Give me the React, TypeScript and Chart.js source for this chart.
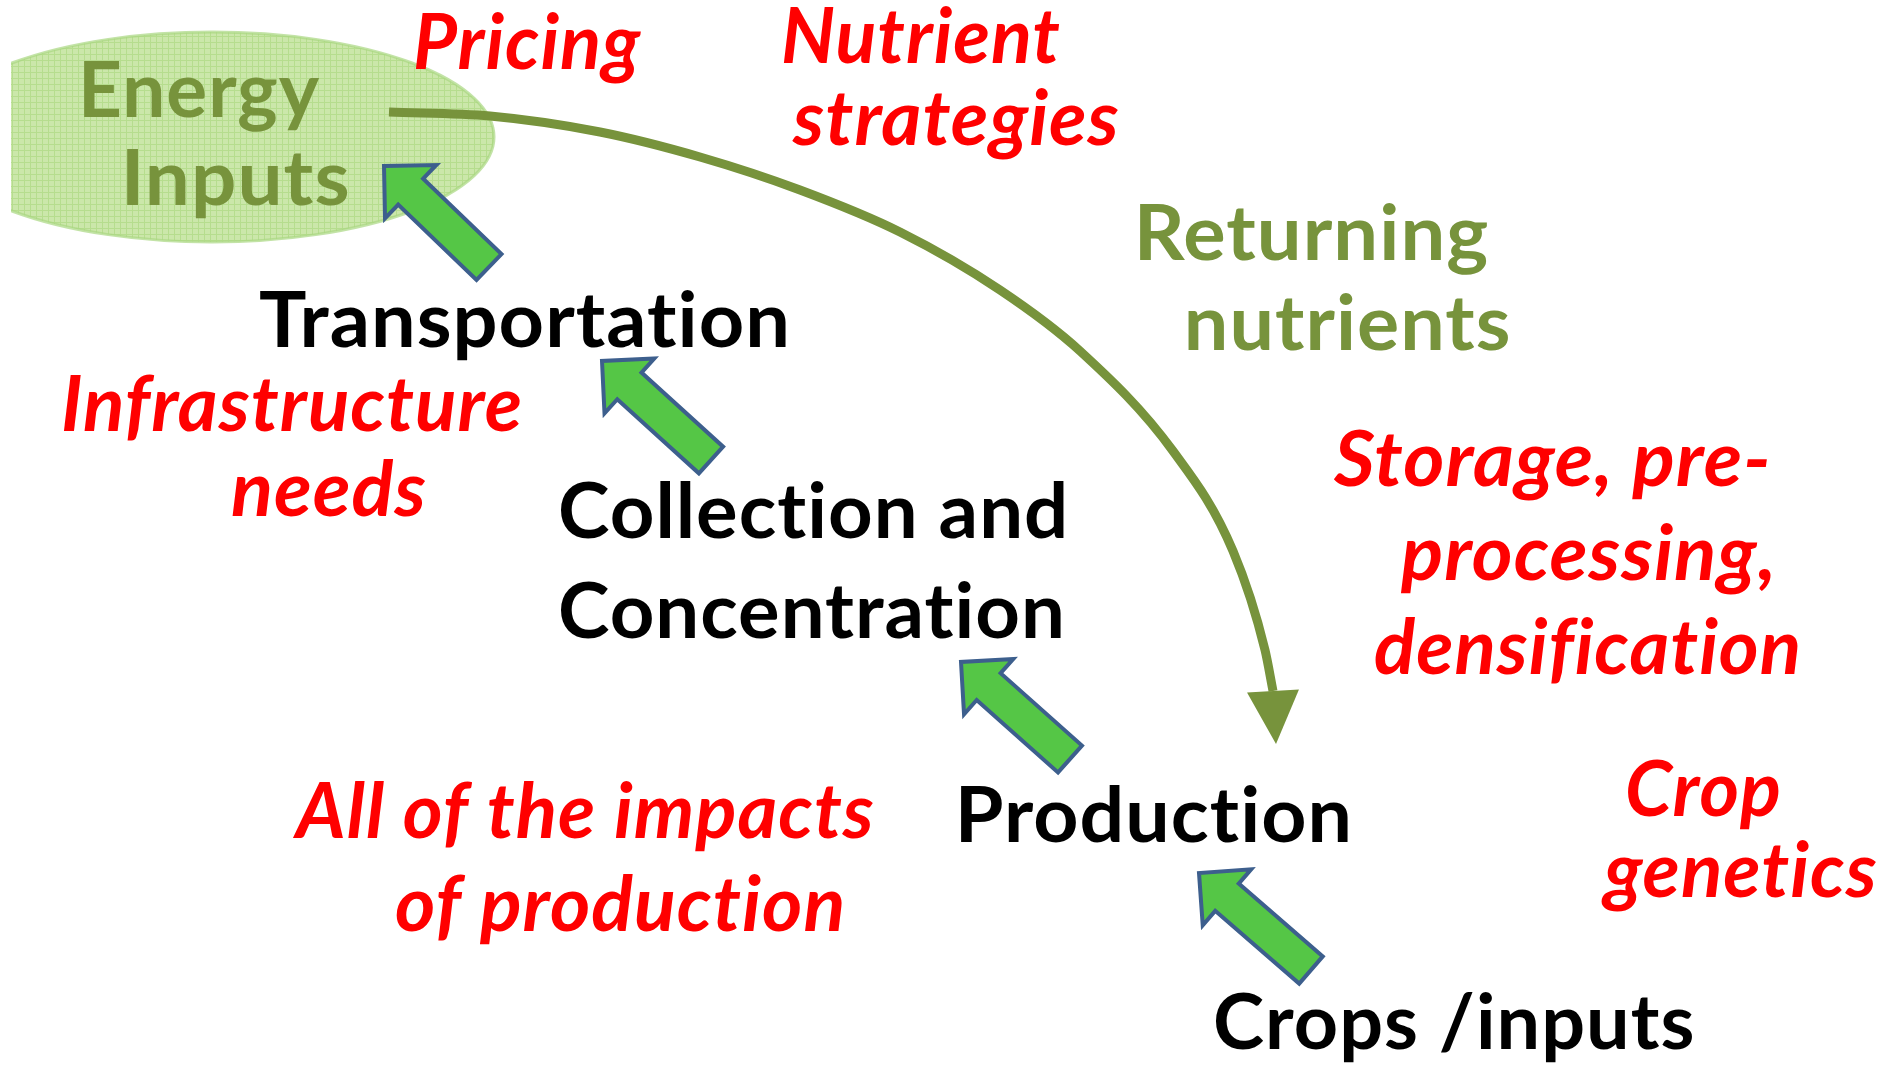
import React, { useEffect, useRef } from "react";
import { Chart, registerables } from "chart.js";
Chart.register(...registerables);

const W = 1895;
const H = 1065;

// Returning-nutrients curve
const curveX = [389, 490, 600, 700, 800, 900, 1000, 1080, 1173, 1233, 1265, 1273];
const curveY = [112, 116, 132, 157, 190, 232, 290, 351, 451, 551, 650, 691];
const curveTip = [1276, 744];

// Block arrows (tip / tail centre)
const arrowTipX = [384, 602, 961, 1199];
const arrowTipY = [166, 361, 662, 873];
const arrowTailX = [489, 711, 1070, 1311];
const arrowTailY = [267, 460, 759, 970];

// Energy inputs ellipse
const ellipseCenter = [212, 137];
const ellipseRadius = [282, 105];
const ellipseClipLeft = 11;

// Labels
const labelText = [
  "Pricing", "Nutrient", "strategies", "Energy", "Inputs", "Returning", "nutrients",
  "Transportation", "Infrastructure", "needs", "Storage, pre-", "processing,", "densification",
  "Collection and", "Concentration", "Crop", "genetics", "All of the impacts", "of production",
  "Production", "Crops /inputs",
];
const labelLeft = [415, 783, 792, 84, 127, 1140, 1188, 260, 63, 232, 1333, 1400, 1375, 560, 560, 1628, 1601, 292, 396, 961, 1215];
const labelRight = [641, 1060, 1118, 320, 347, 1487, 1508, 786, 520, 425, 1767, 1771, 1798, 1064, 1061, 1779, 1876, 873, 842, 1348, 1692];
const labelBase = [69, 63, 145, 117, 205, 260, 350, 347, 431, 516, 486, 580, 674, 538, 638, 816, 897, 838, 931, 842, 1049];
const labelKind = [
  "red", "red", "red", "green", "green", "green", "green",
  "black", "red", "red", "red", "red", "red",
  "black", "black", "red", "red", "red", "red",
  "black", "black",
];

const COLORS: Record<string, string> = { red: "#ff0000", green: "#77933c", black: "#000000" };
const OLIVE = "#77933c";
const FONT_SIZE = 76;

function makePattern(ctx: CanvasRenderingContext2D) {
  const c = document.createElement("canvas");
  c.width = 6;
  c.height = 6;
  const p = c.getContext("2d")!;
  p.fillStyle = "#cbe7aa";
  p.fillRect(0, 0, 6, 6);
  p.fillStyle = "#b6dd8e";
  p.fillRect(0, 0, 6, 1);
  p.fillRect(0, 0, 1, 6);
  return ctx.createPattern(c, "repeat");
}

const diagramPlugin = {
  id: "diagram",
  beforeDatasetsDraw(chart: any) {
    const { ctx, scales } = chart;
    const xs = scales.x;
    const ys = scales.y;
    const cx = xs.getPixelForValue(ellipseCenter[0]);
    const cy = ys.getPixelForValue(ellipseCenter[1]);
    const rx = xs.getPixelForValue(ellipseCenter[0] + ellipseRadius[0]) - cx;
    const ry = ys.getPixelForValue(ellipseCenter[1] + ellipseRadius[1]) - cy;
    const clipX = xs.getPixelForValue(ellipseClipLeft);
    ctx.save();
    ctx.beginPath();
    ctx.rect(clipX, 0, W, H);
    ctx.clip();
    ctx.beginPath();
    ctx.ellipse(cx, cy, rx, ry, 0, 0, Math.PI * 2);
    ctx.fillStyle = makePattern(ctx) || "#cbe7aa";
    ctx.fill();
    ctx.lineWidth = 3;
    ctx.strokeStyle = "rgba(170,215,130,0.7)";
    ctx.stroke();
    ctx.restore();

    // labels
    for (let i = 0; i < labelText.length; i++) {
      const italic = labelKind[i] === "red";
      ctx.save();
      ctx.font = `${italic ? "italic " : ""}700 ${FONT_SIZE}px Lato`;
      try {
        (ctx as any).letterSpacing = "1px";
      } catch (e) {}
      ctx.fillStyle = COLORS[labelKind[i]];
      ctx.textBaseline = "alphabetic";
      ctx.textAlign = "left";
      const l = xs.getPixelForValue(labelLeft[i]);
      const r = xs.getPixelForValue(labelRight[i]);
      const b = ys.getPixelForValue(labelBase[i]);
      const m = ctx.measureText(labelText[i]);
      const w = m.actualBoundingBoxRight + m.actualBoundingBoxLeft || m.width;
      const s = (r - l) / w;
      ctx.translate(l, b);
      ctx.scale(s, 1);
      ctx.fillText(labelText[i], m.actualBoundingBoxLeft || 0, 0);
      ctx.restore();
    }
  },
  afterDatasetsDraw(chart: any) {
    const { ctx, scales } = chart;
    const xs = scales.x;
    const ys = scales.y;
    // curve head
    const n = curveX.length - 1;
    const bx = xs.getPixelForValue(curveX[n]);
    const by = ys.getPixelForValue(curveY[n]);
    const tx = xs.getPixelForValue(curveTip[0]);
    const ty = ys.getPixelForValue(curveTip[1]);
    let ux = tx - bx;
    let uy = ty - by;
    const len = Math.hypot(ux, uy);
    ux /= len;
    uy /= len;
    const hw = 26;
    ctx.save();
    ctx.beginPath();
    ctx.moveTo(tx, ty);
    ctx.lineTo(bx - uy * hw, by + ux * hw);
    ctx.lineTo(bx + uy * hw, by - ux * hw);
    ctx.closePath();
    ctx.fillStyle = OLIVE;
    ctx.fill();
    ctx.restore();

    // block arrows
    for (let i = 0; i < arrowTipX.length; i++) {
      const px = xs.getPixelForValue(arrowTipX[i]);
      const py = ys.getPixelForValue(arrowTipY[i]);
      const qx = xs.getPixelForValue(arrowTailX[i]);
      const qy = ys.getPixelForValue(arrowTailY[i]);
      let dx = qx - px;
      let dy = qy - py;
      const L = Math.hypot(dx, dy);
      dx /= L;
      dy /= L;
      const nx = -dy;
      const ny = dx;
      const headLen = 37;
      const headW = 37;
      const shaftW = 18;
      const mx = px + dx * headLen;
      const my = py + dy * headLen;
      ctx.save();
      ctx.beginPath();
      ctx.moveTo(px, py);
      ctx.lineTo(mx + nx * headW, my + ny * headW);
      ctx.lineTo(mx + nx * shaftW, my + ny * shaftW);
      ctx.lineTo(qx + nx * shaftW, qy + ny * shaftW);
      ctx.lineTo(qx - nx * shaftW, qy - ny * shaftW);
      ctx.lineTo(mx - nx * shaftW, my - ny * shaftW);
      ctx.lineTo(mx - nx * headW, my - ny * headW);
      ctx.closePath();
      ctx.fillStyle = "#55c646";
      ctx.fill();
      ctx.lineWidth = 4;
      ctx.lineJoin = "miter";
      ctx.strokeStyle = "#3d5f8d";
      ctx.stroke();
      ctx.restore();
    }
  },
};

export default function App() {
  const ref = useRef<HTMLCanvasElement>(null);
  useEffect(() => {
    document.body.style.margin = "0";
    document.body.style.overflow = "hidden";
    let chart: Chart | null = null;
    let cancelled = false;
    const make = () => {
      if (cancelled || !ref.current) return;
      chart = new Chart(ref.current, {
        type: "line",
        data: {
          datasets: [
            {
              label: "Returning nutrients",
              data: curveX.map((x, i) => ({ x, y: curveY[i] })),
              borderColor: OLIVE,
              borderWidth: 9,
              pointRadius: 0,
              cubicInterpolationMode: "monotone",
              fill: false,
              borderCapStyle: "butt",
            },
          ],
        },
        options: {
          animation: false,
          responsive: false,
          devicePixelRatio: 1,
          layout: { padding: 0 },
          plugins: { legend: { display: false }, tooltip: { enabled: false } },
          events: [],
          scales: {
            x: { type: "linear", min: 0, max: W, display: false },
            y: { type: "linear", min: 0, max: H, reverse: true, display: false },
          },
        },
        plugins: [diagramPlugin],
      });
    };
    const fonts = (document as any).fonts;
    if (fonts && fonts.load) {
      Promise.all([fonts.load(`700 ${FONT_SIZE}px Lato`), fonts.load(`italic 700 ${FONT_SIZE}px Lato`)])
        .then(make, make);
    } else make();
    return () => {
      cancelled = true;
      if (chart) chart.destroy();
    };
  }, []);
  return (
    <div style={{ position: "fixed", left: 0, top: 0, width: W, height: H, background: "#fff" }}>
      <canvas ref={ref} width={W} height={H} style={{ display: "block", width: W, height: H }} />
    </div>
  );
}
